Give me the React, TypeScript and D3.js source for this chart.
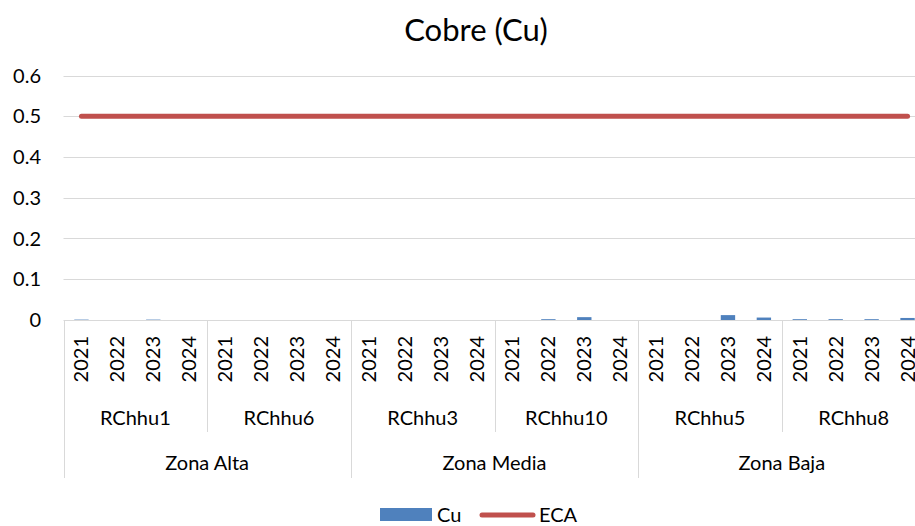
import React from "react";
import * as d3 from "d3";

const zones = ["Zona Alta", "Zona Media", "Zona Baja"];
const stations = ["RChhu1", "RChhu6", "RChhu3", "RChhu10", "RChhu5", "RChhu8"];
const stationZone = [0, 0, 1, 1, 2, 2];
const years = ["2021", "2022", "2023", "2024"];
const cuValues = [
  0.001, 0, 0.001, 0,
  0, 0, 0, 0,
  0, 0, 0, 0,
  0, 0.002, 0.007, 0,
  0, 0, 0.012, 0.006,
  0.002, 0.002, 0.002, 0.005,
];
const ecaValue = 0.5;
const yTicks = [0, 0.1, 0.2, 0.3, 0.4, 0.5, 0.6];

const W = 915;
const H = 526;
const FONT = "Lato, 'Open Sans', sans-serif";
const FS = 20;

export default function App() {
  const cats = stations.flatMap((s) => years.map((y) => `${s}|${y}`));
  const left = 63.5;
  const right = 925.5;
  const x = d3.scaleBand<string>().domain(cats).range([left, right]).paddingInner(0.6).paddingOuter(0.3);
  const y = d3.scaleLinear().domain([0, 0.6]).range([320, 75.5]);
  const step = x.step();
  const bw = x.bandwidth();
  const cx = (c: string) => (x(c) as number) + bw / 2;
  const groupStart = (i: number) => left + i * 4 * step;
  const line = d3
    .line<string>()
    .x((c) => cx(c))
    .y(() => y(ecaValue));
  const axisColor = "#d9d9d9";
  const textColor = "#000";

  return (
    <svg width={W} height={H} style={{ display: "block", position: "absolute", left: 0, top: 0 }}>
      <rect width={W} height={H} fill="#fff" />
      <text x={476} y={41} textAnchor="middle" fontFamily={FONT} fontSize={31} fill={textColor}>
        Cobre (Cu)
      </text>
      {yTicks.map((t) => (
        <g key={t}>
          <line x1={left} x2={right} y1={Math.round(y(t)) + 0.5} y2={Math.round(y(t)) + 0.5} stroke={axisColor} strokeWidth={1} />
          <text x={41} y={y(t)} dy="0.35em" textAnchor="end" fontFamily={FONT} fontSize={FS} fill={textColor}>
            {t === 0 ? "0" : String(t)}
          </text>
        </g>
      ))}
      {cats.map((c, i) => (
        <rect key={c} x={x(c)} y={y(cuValues[i])} width={bw} height={y(0) - y(cuValues[i])} fill="#4f81bd" />
      ))}
      <path d={line(cats) || ""} fill="none" stroke="#c0504d" strokeWidth={5} strokeLinecap="round" />
      {stations.map((s, i) => {
        const gx = Math.round(groupStart(i)) + 0.5;
        const isZone = i % 2 === 0;
        return <line key={s} x1={gx} x2={gx} y1={320} y2={isZone ? 478 : 432} stroke={axisColor} strokeWidth={1} />;
      })}
      {cats.map((c) => {
        const yr = c.split("|")[1];
        const px = cx(c);
        return (
          <text
            key={"l" + c}
            transform={`translate(${px},${336}) rotate(-90)`}
            textAnchor="end"
            dy="0.35em"
            fontFamily={FONT}
            fontSize={FS}
            fill={textColor}
          >
            {yr}
          </text>
        );
      })}
      {stations.map((s, i) => (
        <text key={"s" + s} x={groupStart(i) + 2 * step} y={418} dy="0.35em" textAnchor="middle" fontFamily={FONT} fontSize={FS} fill={textColor}>
          {s}
        </text>
      ))}
      {zones.map((z, zi) => {
        const idx = stationZone.map((v, i) => (v === zi ? i : -1)).filter((i) => i >= 0);
        const a = groupStart(idx[0]);
        const b = groupStart(idx[idx.length - 1] + 1);
        return (
          <text key={z} x={(a + b) / 2} y={463} dy="0.35em" textAnchor="middle" fontFamily={FONT} fontSize={FS} fill={textColor}>
            {z}
          </text>
        );
      })}
      <rect x={380} y={508} width={52} height={13} fill="#4f81bd" />
      <text x={437} y={515} dy="0.35em" fontFamily={FONT} fontSize={FS} fill={textColor}>
        Cu
      </text>
      <line x1={482} x2={533} y1={515} y2={515} stroke="#c0504d" strokeWidth={5} strokeLinecap="round" />
      <text x={539} y={515} dy="0.35em" fontFamily={FONT} fontSize={FS} fill={textColor}>
        ECA
      </text>
    </svg>
  );
}
